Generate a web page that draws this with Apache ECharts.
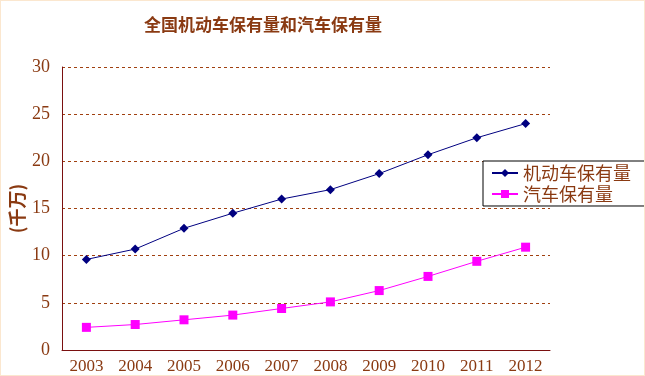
<!DOCTYPE html>
<html><head><meta charset="utf-8">
<script src="https://cdn.jsdelivr.net/npm/echarts@6/dist/echarts.min.js"></script>
<style>html,body{margin:0;padding:0;background:#fff;}#c{width:643px;height:374px;border:1px solid #fbe7cf;}</style>
</head><body><div id="c"></div>
<script>
const years = ['2003','2004','2005','2006','2007','2008','2009','2010','2011','2012'];
const motorVehicles = [9.6, 10.7, 12.9, 14.5, 16.0, 17.0, 18.7, 20.7, 22.5, 24.0];
const cars = [2.4, 2.7, 3.2, 3.7, 4.4, 5.1, 6.3, 7.8, 9.4, 10.9];
const seriesNames = ['机动车保有量', '汽车保有量'];
const titleText = '全国机动车保有量和汽车保有量';
const yAxisName = '(千万)';

const brown = '#8a3a12';
const ff = '"Liberation Serif","Noto Sans CJK SC",serif';
const chart = echarts.init(document.getElementById('c'));
chart.setOption({
  animation: false,
  title: {text: titleText, left: 138, top: 10,
    textStyle: {color: brown, fontSize: 17, fontWeight: 'bold', fontFamily: '"Noto Sans CJK SC",serif'}},
  grid: {left: 61, right: 94, top: 66, bottom: 25, containLabel: false, outerBoundsMode: 'none'},
  legend: {
    orient: 'vertical', left: 482, top: 160, width: 160,
    backgroundColor: '#fff', borderColor: '#000', borderWidth: 1,
    padding: [3, 16, 3, 8], itemGap: 3, itemWidth: 26, itemHeight: 10,
    textStyle: {color: brown, fontSize: 18, fontFamily: '"Noto Sans CJK SC",serif'},
    data: seriesNames
  },
  xAxis: {
    type: 'category', data: years, boundaryGap: true,
    axisLine: {lineStyle: {color: '#7a1010', width: 1}},
    axisTick: {inside: true, length: 6, lineStyle: {color: '#7a1010'}},
    axisLabel: {color: brown, fontSize: 17, fontFamily: ff, margin: 8}
  },
  yAxis: {
    type: 'value', min: 0, max: 30, interval: 5,
    name: yAxisName, nameLocation: 'middle', nameGap: 36, nameRotate: 90, nameMoveOverlap: false,
    nameTextStyle: {color: brown, fontSize: 18, fontWeight: 'bold', fontFamily: '"Noto Sans CJK SC",serif'},
    axisLine: {show: true, lineStyle: {color: '#7a1010', width: 1}},
    axisTick: {show: false},
    axisLabel: {color: brown, fontSize: 18, fontFamily: ff, margin: 12},
    splitLine: {lineStyle: {color: '#a04010', type: [3, 3], width: 1}}
  },
  series: [
    {name: seriesNames[0], type: 'line', data: motorVehicles, symbol: 'diamond', symbolSize: 9,
      itemStyle: {color: '#000080'}, lineStyle: {color: '#000080', width: 1}},
    {name: seriesNames[1], type: 'line', data: cars, symbol: 'rect', symbolSize: 9,
      itemStyle: {color: '#ff00ff'}, lineStyle: {color: '#ff00ff', width: 1}}
  ]
});
</script></body></html>
